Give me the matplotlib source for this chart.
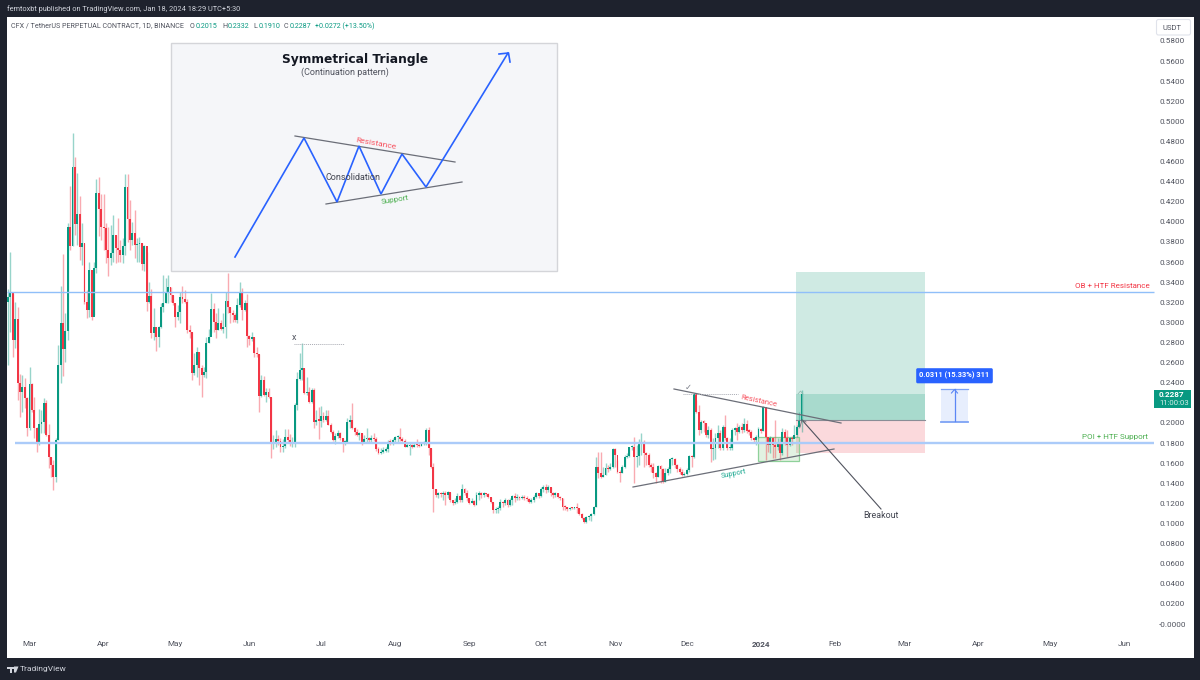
import numpy as np
import matplotlib
matplotlib.use("Agg")
import matplotlib.pyplot as plt
from matplotlib.patches import Rectangle, FancyBboxPatch

plt.rcParams["font.family"] = ["Roboto", "DejaVu Sans"]

# daily CFX/USDT candles, first one is 20 Feb 2023, last 18 Jan 2024
first_open = 0.3206
closes = [
    .3256, .3296, .2825, .3031, .2394, .2311, .2354, .2245, .1946, .2387,
    .2129, .1946, .1797, .1989, .2013, .2195, .1880, .1664, .1582, .1459,
    .1830, .2576, .2997, .2732, .2918, .3950, .3760, .4547, .3980, .4080,
    .3750, .3790, .3200, .3120, .3520, .3050, .3540, .4290, .4130, .3950,
    .3940, .3720, .3640, .3690, .3870, .3740, .3720, .3670, .3760, .4348,
    .4030, .3820, .3890, .3770, .3780, .3790, .3580, .3760, .3200, .3260,
    .2895, .2955, .2855, .2955, .3153, .3190, .3300, .3350, .3270, .3190,
    .3050, .3100, .3250, .3230, .3200, .2925, .2905, .2495, .2575, .2705,
    .2545, .2475, .2505, .2795, .2855, .3135, .3005, .2925, .2995, .2935,
    .2955, .3215, .3155, .3095, .3075, .3025, .3175, .3295, .3125, .3190,
    .2865, .2835, .2855, .2695, .2685, .2265, .2425, .2275, .2305, .2255,
    .1790, .1810, .1840, .1820, .1760, .1770, .1860, .1830, .1790, .1800,
    .2180, .2434, .2527, .2543, .2294, .2311, .2212, .2328, .2013, .2029,
    .2023, .2069, .2029, .2069, .1980, .1913, .1830, .1870, .1903, .1847,
    .1804, .1814, .2013, .2029, .1946, .1913, .1880, .1897, .1814, .1837,
    .1847, .1830, .1847, .1837, .1737, .1704, .1714, .1724, .1737, .1814,
    .1804, .1830, .1857, .1863, .1837, .1824, .1764, .1771, .1777, .1764,
    .1780, .1777, .1771, .1790, .1797, .1930, .1747, .1558, .1340, .1283,
    .1300, .1293, .1306, .1283, .1316, .1233, .1200, .1217, .1273, .1233,
    .1340, .1300, .1250, .1207, .1227, .1184, .1283, .1300, .1283, .1300,
    .1293, .1267, .1217, .1134, .1141, .1151, .1217, .1200, .1233, .1184,
    .1233, .1273, .1250, .1260, .1250, .1267, .1250, .1240, .1217, .1233,
    .1267, .1300, .1273, .1340, .1360, .1333, .1360, .1300, .1283, .1300,
    .1267, .1250, .1167, .1160, .1141, .1157, .1151, .1154, .1151, .1094,
    .1051, .1018, .1061, .1074, .1091, .1167, .1565, .1499, .1466, .1482,
    .1548, .1538, .1565, .1737, .1681, .1515, .1505, .1558, .1664, .1671,
    .1757, .1764, .1658, .1671, .1790, .1804, .1698, .1681, .1582, .1565,
    .1499, .1466, .1572, .1538, .1416, .1499, .1538, .1638, .1645, .1582,
    .1538, .1515, .1482, .1492, .1532, .1671, .1658, .2288, .2112, .1930,
    .2013, .2003, .1880, .1930, .1737, .1747, .1847, .1903, .1747, .1956,
    .1847, .1747, .1754, .1930, .1946, .1913, .1963, .1930, .1989, .1923,
    .1913, .1847, .1830, .1863, .1936, .1923, .2155, .1857, .1780, .1847,
    .1780, .1764, .1814, .1698, .1913, .1847, .1780, .1847, .1837, .1880,
    .1963, .2015, .2287,
]
highs = [
    .3332, .3700, .3296, .3206, .3156, .2487, .2477, .2444, .2261, .2560,
    .2394, .2261, .1963, .2135, .2129, .2245, .2228, .1989, .1664, .1631,
    .1847, .2775, .3362, .3680, .3090, .3990, .4360, .4886, .4650, .4490,
    .4260, .3990, .3790, .3320, .3600, .3520, .3600, .4430, .4450, .4280,
    .4280, .3990, .3950, .3970, .4070, .3870, .4040, .3820, .3840, .4477,
    .4477, .4220, .4000, .4120, .3840, .3850, .3790, .3770, .3700, .3400,
    .3330, .3140, .2955, .2960, .3190, .3470, .3440, .3470, .3350, .3270,
    .3190, .3170, .3300, .3360, .3320, .3230, .2975, .2905, .2695, .2755,
    .2705, .2575, .2555, .2855, .2935, .3295, .3190, .3095, .3145, .3025,
    .3090, .3300, .3490, .3155, .3125, .3095, .3245, .3400, .3345, .3220,
    .3280, .2875, .2905, .2855, .2755, .2685, .2475, .2465, .2345, .2345,
    .2255, .1880, .1930, .1880, .1850, .1840, .1940, .1940, .1890, .1860,
    .2200, .2510, .2692, .2798, .2543, .2460, .2361, .2344, .2344, .2129,
    .2162, .2168, .2112, .2129, .2129, .1996, .1930, .1897, .1930, .1913,
    .1847, .1830, .2046, .2079, .2195, .1963, .1936, .1913, .1897, .1880,
    .1946, .1863, .1880, .1897, .1857, .1764, .1747, .1757, .1764, .1830,
    .1837, .1847, .1870, .1880, .1946, .1863, .1837, .1797, .1797, .1787,
    .1797, .1837, .1797, .1814, .1820, .1946, .1956, .1747, .1598, .1340,
    .1316, .1316, .1323, .1323, .1326, .1316, .1233, .1250, .1300, .1283,
    .1393, .1349, .1333, .1250, .1250, .1233, .1316, .1326, .1316, .1316,
    .1306, .1300, .1267, .1217, .1167, .1174, .1240, .1227, .1250, .1240,
    .1250, .1283, .1300, .1293, .1270, .1283, .1283, .1270, .1250, .1250,
    .1283, .1316, .1300, .1366, .1383, .1393, .1383, .1360, .1316, .1316,
    .1306, .1270, .1250, .1184, .1167, .1167, .1167, .1167, .1207, .1151,
    .1101, .1068, .1074, .1084, .1107, .1174, .1664, .1714, .1714, .1565,
    .1598, .1582, .1598, .1747, .1747, .1631, .1532, .1582, .1681, .1698,
    .1764, .1780, .1863, .1780, .1840, .1897, .1830, .1714, .1698, .1598,
    .1598, .1515, .1582, .1582, .1548, .1548, .1565, .1648, .1658, .1648,
    .1592, .1565, .1538, .1515, .1548, .1681, .1681, .2294, .2228, .2178,
    .2029, .2029, .1996, .1973, .1946, .1847, .1897, .1979, .1930, .1979,
    .2079, .1863, .1847, .1946, .1963, .2003, .1979, .1996, .2046, .2029,
    .1936, .1930, .1863, .1880, .1956, .1946, .2168, .2155, .1863, .1870,
    .1863, .2029, .1847, .1847, .1946, .1936, .1930, .1863, .1870, .1979,
    .1979, .2112, .2332,
]
lows = [
    .2576, .2908, .2659, .2742, .2228, .2062, .2112, .2145, .1873, .1930,
    .2112, .1847, .1714, .1780, .1897, .1897, .1873, .1548, .1466, .1333,
    .1409, .1830, .2394, .2467, .2609, .2825, .3720, .3760, .3870, .3770,
    .3620, .3570, .3180, .3040, .3050, .3025, .3070, .3490, .3860, .3820,
    .3720, .3590, .3460, .3570, .3600, .3590, .3600, .3600, .3590, .3670,
    .3800, .3720, .3770, .3640, .3600, .3600, .3520, .3510, .3110, .3190,
    .2845, .2825, .2715, .2755, .2945, .3100, .3190, .3190, .3200, .3170,
    .2955, .3025, .2995, .3190, .3190, .2895, .2845, .2425, .2475, .2455,
    .2375, .2258, .2455, .2445, .2795, .2895, .2905, .2845, .2925, .2925,
    .2895, .2845, .3095, .2995, .3005, .3005, .2995, .3155, .3025, .3115,
    .2755, .2775, .2815, .2655, .2655, .2110, .2255, .2265, .2205, .2245,
    .1650, .1740, .1760, .1780, .1710, .1710, .1750, .1810, .1770, .1760,
    .1760, .2129, .2427, .2427, .2290, .2278, .2195, .2195, .1946, .1980,
    .1837, .1963, .2013, .2023, .1975, .1897, .1824, .1790, .1847, .1830,
    .1714, .1780, .1797, .1946, .1943, .1880, .1870, .1830, .1780, .1797,
    .1797, .1804, .1814, .1824, .1724, .1691, .1691, .1704, .1714, .1714,
    .1780, .1780, .1797, .1814, .1824, .1804, .1757, .1757, .1681, .1754,
    .1757, .1757, .1757, .1771, .1780, .1780, .1681, .1548, .1117, .1267,
    .1250, .1267, .1233, .1184, .1250, .1217, .1184, .1194, .1207, .1217,
    .1217, .1283, .1227, .1194, .1200, .1174, .1184, .1233, .1250, .1267,
    .1273, .1250, .1200, .1107, .1107, .1107, .1134, .1167, .1184, .1167,
    .1174, .1184, .1217, .1233, .1233, .1240, .1233, .1227, .1207, .1207,
    .1217, .1250, .1250, .1267, .1316, .1306, .1316, .1273, .1250, .1267,
    .1250, .1233, .1134, .1134, .1127, .1134, .1141, .1141, .1107, .1084,
    .1041, .1008, .1008, .1035, .1028, .1084, .1167, .1449, .1449, .1459,
    .1482, .1515, .1532, .1548, .1565, .1499, .1416, .1499, .1548, .1648,
    .1658, .1731, .1399, .1565, .1582, .1681, .1565, .1582, .1565, .1515,
    .1449, .1399, .1459, .1399, .1406, .1416, .1482, .1499, .1582, .1548,
    .1515, .1492, .1472, .1472, .1482, .1515, .1558, .1648, .2095, .1880,
    .1897, .1913, .1863, .1847, .1615, .1631, .1638, .1747, .1731, .1731,
    .1830, .1731, .1731, .1731, .1880, .1830, .1897, .1897, .1913, .1897,
    .1880, .1830, .1797, .1780, .1847, .1897, .1923, .1631, .1714, .1698,
    .1648, .1648, .1731, .1631, .1681, .1780, .1664, .1771, .1780, .1847,
    .1863, .1946, .1910,
]

# 0.22 sits under the last price tag in the original, so it is left out
price_ticks = [0.58, 0.56, 0.54, 0.52, 0.50, 0.48, 0.46, 0.44, 0.42, 0.40, 0.38, 0.36, 0.34, 0.32, 0.30,
               0.28, 0.26, 0.24, 0.20, 0.18, 0.16, 0.14, 0.12, 0.10, 0.08, 0.06, 0.04, 0.02, 0.0]
month_pos = [9, 40, 70, 101, 131, 162, 193, 223, 254, 284, 315, 346, 375, 406, 436, 467]
month_labels = ["Mar", "Apr", "May", "Jun", "Jul", "Aug", "Sep", "Oct", "Nov", "Dec", "2024",
                "Feb", "Mar", "Apr", "May", "Jun"]

ob_level = 0.3302
poi_level = 0.1800
long_top, long_entry, long_stop = 0.3500, 0.2028, 0.1700
last_close = 0.2287

UP, DOWN = "#089981", "#f23645"
BLUE = "#2962ff"
FRAME = "#1e222d"
W, H = 1200, 680

closes = np.array(closes)
highs = np.array(highs)
lows = np.array(lows)
opens = np.r_[first_open, closes[:-1]]  # perp: each open is the previous close
days = np.arange(len(closes))
colors = np.where(closes >= opens, UP, DOWN)

fig = plt.figure(figsize=(W / 100, H / 100), dpi=100, facecolor=FRAME)

# main pane, x axis is candle index
ax = fig.add_axes([7 / W, 1 - 658 / H, (1193.5 - 7) / W, (658 - 17) / H], facecolor="white")
ax.set_xlim(-0.42, 496)
ax.set_ylim(-0.0338, 0.6038)
for s in ax.spines.values():
    s.set_visible(False)

ax.yaxis.tick_right()
ax.set_yticks(price_ticks)
ax.set_yticklabels(["-0.0000" if p == 0 else f"{p:.4f}" for p in price_ticks])
ax.tick_params(axis="y", length=0, pad=-24.8, labelsize=5.9, labelcolor="#50535e")
ax.set_xticks(month_pos)
ax.set_xticklabels(month_labels)
ax.tick_params(axis="x", length=0, pad=-12.5, labelsize=5.9, labelcolor="#50535e")
ax.get_xticklabels()[10].set_fontweight("bold")

# long/short position tool
box_l, box_w = 329.7, 54
ax.add_patch(Rectangle((box_l, long_stop), box_w, long_entry - long_stop, fc="#fbd9dc", ec="none", zorder=1))
ax.add_patch(Rectangle((box_l, long_entry), box_w, long_top - long_entry, fc="#cfeae3", ec="none", zorder=1))
ax.add_patch(Rectangle((box_l, long_entry), box_w, last_close - long_entry, fc="#a8dacd", ec="none", zorder=1))
ax.plot([box_l, box_l + box_w], [long_entry, long_entry], color="#8a8d96", lw=0.8, zorder=1.5)

# green demand box
ax.add_patch(Rectangle((313.8, 0.1624), 17, 0.0235, fc="#4caf50", alpha=0.16, ec="none", zorder=1.5))
ax.add_patch(Rectangle((313.8, 0.1624), 17, 0.0235, fc="none", ec="#8fd19a", lw=0.9, zorder=1.6))

# candles
ax.vlines(days, lows, highs, colors=colors, lw=1.0, alpha=0.42, zorder=3)
ax.bar(days, np.maximum(np.abs(closes - opens), 0.0012), bottom=np.minimum(opens, closes),
       width=0.8, color=colors, linewidth=0, zorder=3.5)

# HTF levels
ax.hlines(ob_level, -0.42, 479.5, color="#90bff9", lw=1.0, zorder=4)
ax.hlines(poi_level, 3, 479.5, color="#abcbf9", lw=1.7, zorder=4)

# overlay in image pixels for the hand drawn stuff
ov = fig.add_axes([0, 0, 1, 1], facecolor="none", zorder=5)
ov.set_xlim(0, W)
ov.set_ylim(H, 0)
ov.axis("off")

GRAY = "#6b6e78"

# inset panel
ov.add_patch(Rectangle((171, 43), 386, 228, fc="#f5f6f9", ec="#d4d5d9", lw=1.0))
ov.plot([295, 455], [136, 162], color=GRAY, lw=0.9)
ov.plot([326, 462], [204, 182], color=GRAY, lw=0.9)
ov.plot([235, 304, 337, 359, 381, 402, 426, 508], [257, 138, 202, 146, 194, 154, 187, 53],
        color=BLUE, lw=1.2, solid_joinstyle="miter")
ov.plot([499, 508.5, 510], [54, 53, 62], color=BLUE, lw=1.2)
ov.text(355.5, 59, "Symmetrical Triangle", fontsize=8.8, weight="semibold", color="#131722",
        ha="center", va="center", family=["DejaVu Sans"])
ov.text(344.5, 72, "(Continuation pattern)", fontsize=6.5, color="#50535e", ha="center", va="center")
ov.text(375.5, 143.5, "Resistance", fontsize=6, color="#f7525f", rotation=-10, ha="center", va="center")
ov.text(353, 177, "Consolidation", fontsize=6.5, color="#434651", ha="center", va="center")
ov.text(394.5, 200, "Support", fontsize=5.8, color="#4caf50", rotation=9, ha="center", va="center")

# triangle on the chart
ov.plot([674, 841], [389, 423], color=GRAY, lw=0.9)
ov.plot([633, 834], [487, 449], color=GRAY, lw=0.9)
ov.plot([802, 881], [420, 509], color="#50535e", lw=0.8)
ov.plot([800, 802, 806], [427, 420, 422], color=GRAY, lw=0.6)
ov.plot([798, 800.5, 803], [394, 391, 394], color="#8fb5ad", lw=0.5)
ov.text(759, 401, "Resistance", fontsize=5.4, color="#f7525f", rotation=-12, ha="center", va="center")
ov.text(734, 474, "Support", fontsize=5.2, color="#22ab94", rotation=11, ha="center", va="center")
ov.text(881, 515, "Breakout", fontsize=6.4, color="#434651", ha="center", va="center")
ov.text(688, 387, "\u2713", fontsize=6, color="#787b86", ha="center", va="center", family=["DejaVu Sans"])
ov.plot([683, 738], [393.5, 393.5], color="#a9abb3", lw=0.7, ls=(0, (1, 1)))
ov.text(294, 338, "x", fontsize=6.5, color="#50535e", ha="center", va="center")
ov.plot([294, 344], [343.5, 343.5], color="#a9abb3", lw=0.7, ls=(0, (1, 1)))

ov.text(1150, 286, "OB + HTF Resistance", fontsize=5.8, color="#f23645", ha="right", va="center")
ov.text(1148, 437, "POI + HTF Support", fontsize=5.8, color="#4caf50", ha="right", va="center")

# price range measure
ov.add_patch(Rectangle((941, 389), 27, 32.5, fc="#e7eefd", ec="none"))
ov.plot([941, 968], [389, 389], color="#7da2f5", lw=0.9)
ov.plot([941, 968], [421.5, 421.5], color="#7da2f5", lw=1.3)
ov.plot([954.5, 954.5], [389, 421], color="#5b86f5", lw=0.9)
ov.plot([951.5, 954.5, 957.5], [393, 389.5, 393], color="#5b86f5", lw=0.8)
ov.add_patch(FancyBboxPatch((917, 369), 75, 13.5, boxstyle="round,pad=0.8,rounding_size=1.5", fc=BLUE, ec="none"))
ov.text(954.5, 375.5, "0.0311 (15.33%) 311", fontsize=5.4, color="white", weight="semibold",
        ha="center", va="center")

# last price tag
ov.add_patch(Rectangle((1154, 389.5), 37, 18.5, fc=UP, ec="none"))
ov.text(1159, 394.3, "0.2287", fontsize=5.9, color="white", weight="bold", ha="left", va="center")
ov.text(1159, 403.3, "11:00:03", fontsize=5.6, color="#d5efe9", ha="left", va="center")

# USDT button
ov.add_patch(FancyBboxPatch((1157, 20), 33, 14.5, boxstyle="round,pad=0.5,rounding_size=2", fc="white", ec="#e0e3eb", lw=0.8))
ov.text(1172, 27.5, "USDT", fontsize=5.5, color="#50535e", ha="center", va="center")

# header and legend
ov.text(7, 9, "femtoxbt published on TradingView.com, Jan 18, 2024 18:29 UTC+5:30", fontsize=5.35,
        color="#d1d4dc", ha="left", va="center")
ov.text(11, 26, "CFX / TetherUS PERPETUAL CONTRACT, 1D, BINANCE", fontsize=5.15, color="#50535e", ha="left", va="center")
for x_lab, lab, val in [(190, "O", "0.2015"), (222, "H", "0.2332"), (253, "L", "0.1910"), (284, "C", "0.2287")]:
    ov.text(x_lab, 26, lab, fontsize=5.15, color="#50535e", ha="left", va="center")
    ov.text(x_lab + 5.5, 26, val, fontsize=5.15, color=UP, ha="left", va="center")
ov.text(315, 26, "+0.0272 (+13.50%)", fontsize=5.15, color=UP, ha="left", va="center")

# TradingView logo
ov.add_patch(Rectangle((7, 666.5), 6.5, 2, fc="#d1d4dc", ec="none"))
ov.add_patch(Rectangle((9.5, 666.5), 2.5, 6, fc="#d1d4dc", ec="none"))
ov.fill([14, 18.5, 16, 14], [666.5, 666.5, 672.5, 672.5], color="#d1d4dc", lw=0)
ov.text(20, 669, "TradingView", fontsize=6, color="#d1d4dc", ha="left", va="center")

fig.savefig("out.png", dpi=100, facecolor=FRAME)
